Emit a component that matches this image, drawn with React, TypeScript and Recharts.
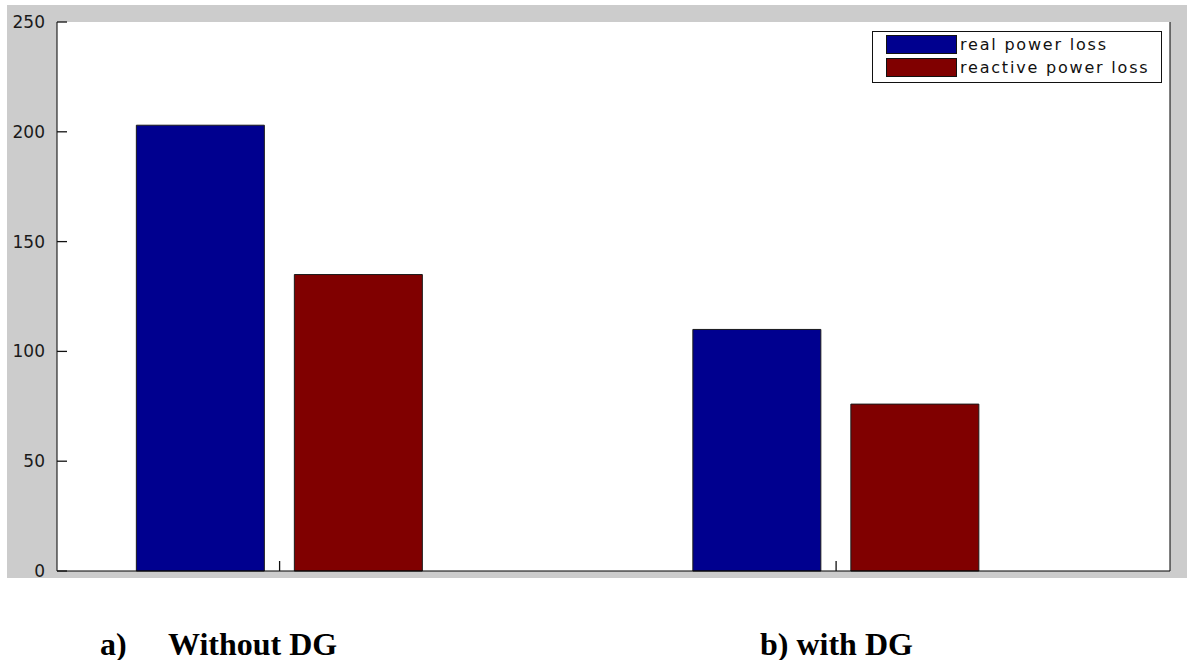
import { BarChart, Bar, XAxis, YAxis, CartesianGrid } from 'recharts';

// bar positions on the MATLAB x axis and the two cases
const positions = [1, 2];
const caseLabels = ['a)', 'Without DG', 'b) with DG'];
const realLoss = [203, 110];
const reactiveLoss = [135, 76];
const yTicks = [0, 50, 100, 150, 200, 250];
const seriesNames = ['real power loss', 'reactive power loss'];
const seriesColors = ['#00008f', '#800000'];

const data = positions.map((p, i) => ({ pos: p, real: realLoss[i], reactive: reactiveLoss[i] }));

const W = 1180;
const H = 573;
const EXTRA = 12; // room below the gray panel so the "0" label is not clipped
const PLOT_L = 50;
const PLOT_R = 1163;
const PLOT_T = 17;
const PLOT_B = 566;

const LeftTick = (props: any) => {
    const { y, payload } = props;
    return (
        <g>
            <line x1={PLOT_L} x2={PLOT_L + 10} y1={y} y2={y} stroke="#111" strokeWidth={1.3} />
            <text x={38} y={y} textAnchor="end" dominantBaseline="central"
                style={{ fontFamily: 'DejaVu Sans', fontSize: 17, fill: '#1a1a1a' }}>
                {payload.value}
            </text>
        </g>
    );
};

const RightTick = (props: any) => (
    <line x1={PLOT_R} x2={PLOT_R - 11} y1={props.y} y2={props.y} stroke="#111" strokeWidth={1.3} />
);

const BottomTick = (props: any) => (
    <line x1={props.x} x2={props.x} y1={PLOT_B} y2={PLOT_B - 10} stroke="#111" strokeWidth={1.3} />
);

const TopTick = (props: any) => (
    <line x1={props.x} x2={props.x} y1={PLOT_T} y2={PLOT_T + 8} stroke="#111" strokeWidth={1.3} />
);

function LegendBox() {
    return (
        <div style={{ position: 'absolute', left: 865, top: 26, width: 288, height: 50, border: '1px solid #111', background: '#fff' }}>
            {seriesNames.map((name, i) => (
                <div key={name} style={{ position: 'absolute', left: 13, top: i === 0 ? 3 : 26, height: 19, display: 'flex', alignItems: 'center' }}>
                    <div style={{ width: 69, height: 17, background: seriesColors[i], border: '1px solid #111' }} />
                    <span style={{ marginLeft: 3, fontFamily: 'DejaVu Sans', fontSize: 16, letterSpacing: 1.8, color: '#111', lineHeight: '19px' }}>
                        {name}
                    </span>
                </div>
            ))}
        </div>
    );
}

const captionStyle: React.CSSProperties = {
    position: 'absolute',
    top: 628,
    fontFamily: '"Liberation Serif", "Times New Roman", serif',
    fontWeight: 'bold',
    fontSize: 32,
    lineHeight: '32px',
    color: '#000',
    whiteSpace: 'pre',
};

export default function App() {
    return (
        <div style={{ position: 'absolute', left: 0, top: 0, width: 1187, height: 660, background: '#fff' }}>
            <div style={{ position: 'absolute', left: 7, top: 5, width: W, height: H, background: '#cccccc' }} />
            <div style={{ position: 'absolute', left: 7, top: 5, width: W, height: H + EXTRA }}>
                <BarChart width={W} height={H + EXTRA} data={data} barSize={128} barGap={30}
                    margin={{ top: PLOT_T, right: 0, bottom: EXTRA, left: 0 }}>
                    <CartesianGrid horizontal={false} vertical={false} fill="#ffffff" />
                    <XAxis dataKey="pos" type="number" domain={[0.6, 2.6]} ticks={positions}
                        height={H - PLOT_B} tickLine={false} tick={<BottomTick />} axisLine={{ stroke: '#000' }} />
                    <XAxis xAxisId="top" dataKey="pos" type="number" domain={[0.6, 2.6]} ticks={positions}
                        orientation="top" height={0} tickLine={false} tick={<TopTick />} axisLine={{ stroke: '#000' }} />
                    <YAxis domain={[0, 250]} ticks={yTicks} width={PLOT_L} interval={0}
                        tickLine={false} tick={<LeftTick />} axisLine={{ stroke: '#000' }} />
                    <YAxis yAxisId="right" orientation="right" domain={[0, 250]} ticks={yTicks} width={W - PLOT_R}
                        interval={0} tickLine={false} tick={<RightTick />} axisLine={{ stroke: '#000' }} />
                    <Bar dataKey="real" name={seriesNames[0]} fill={seriesColors[0]} stroke="#1a1a1a" strokeWidth={1}
                        isAnimationActive={false} />
                    <Bar dataKey="reactive" name={seriesNames[1]} fill={seriesColors[1]} stroke="#1a1a1a" strokeWidth={1}
                        isAnimationActive={false} />
                </BarChart>
                <LegendBox />
            </div>
            <div style={{ ...captionStyle, left: 100 }}>{caseLabels[0]}</div>
            <div style={{ ...captionStyle, left: 168 }}>{caseLabels[1]}</div>
            <div style={{ ...captionStyle, left: 760 }}>{caseLabels[2]}</div>
        </div>
    );
}
